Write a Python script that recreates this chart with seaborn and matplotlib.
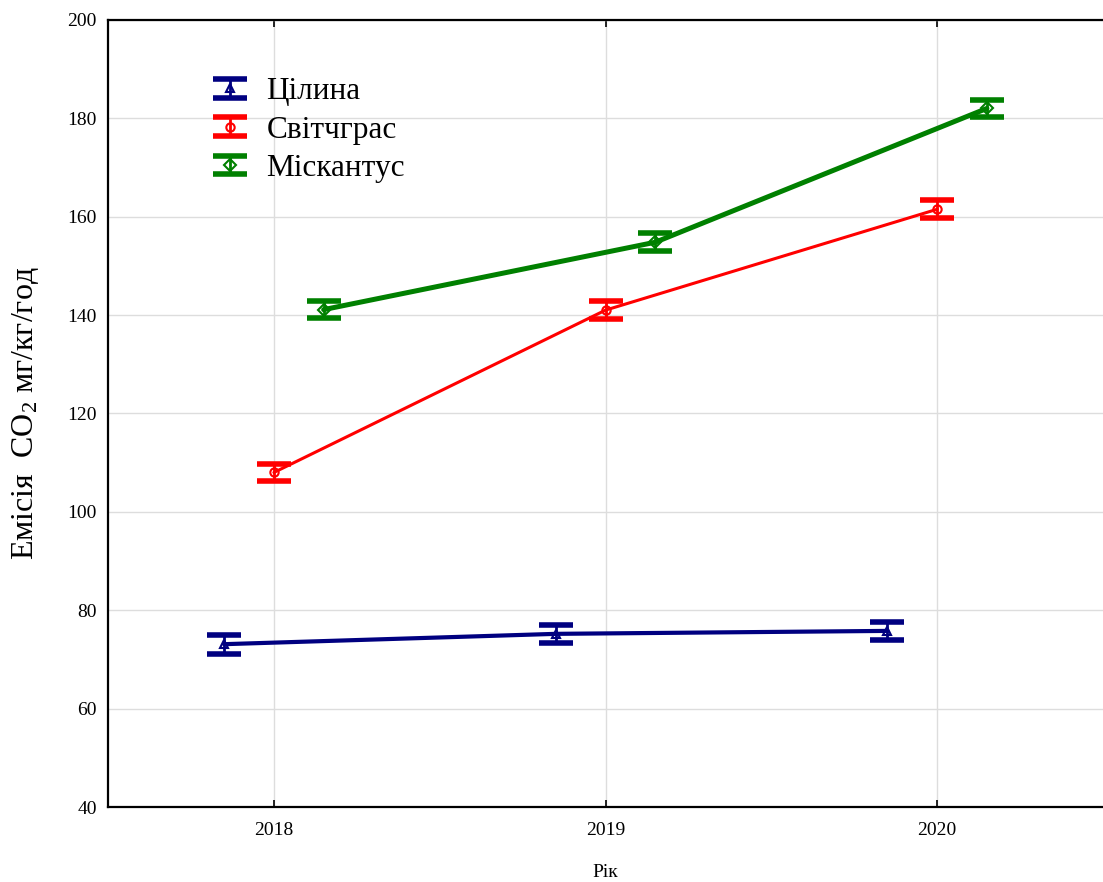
import matplotlib
matplotlib.use("Agg")
import matplotlib.pyplot as plt
from matplotlib.container import ErrorbarContainer
from matplotlib.legend_handler import HandlerErrorbar
import numpy as np
import pandas as pd
import seaborn as sns

# Data: CO2 emission by year and land-use variant
years = ["2018", "2019", "2020"]
series_names = ["Цілина", "Світчграс", "Міскантус"]
tselyna = [73.1, 75.2, 75.8]
switchgrass = [108.0, 141.0, 161.5]
miscanthus = [141.1, 154.8, 182.0]
tselyna_err = [1.9, 1.9, 1.9]
switchgrass_err = [1.8, 1.8, 1.8]
miscanthus_err = [1.8, 1.8, 1.8]

sns.set_theme(style="white")
plt.rcParams["font.family"] = ["Liberation Serif", "DejaVu Serif"]
plt.rcParams["mathtext.fontset"] = "custom"
plt.rcParams["mathtext.rm"] = "Liberation Serif"
plt.rcParams["mathtext.it"] = "Liberation Serif:italic"
plt.rcParams["text.color"] = "black"
plt.rcParams["axes.labelcolor"] = "black"

values = [tselyna, switchgrass, miscanthus]
errors = [tselyna_err, switchgrass_err, miscanthus_err]
colors = ["#000080", "#ff0000", "#008000"]
markers = ["^", "o", "D"]
offsets = [-0.15, 0.0, 0.15]
line_widths = [3.0, 2.2, 3.6]

rows = []
for name, vals, errs, off in zip(series_names, values, errors, offsets):
    for i, (y, e) in enumerate(zip(vals, errs)):
        rows.append({"series": name, "pos": i + off, "value": y, "err": e})
df = pd.DataFrame(rows)

fig = plt.figure(figsize=(11.03, 8.82), dpi=100)
ax = fig.add_axes([0.098, 0.085, 0.902, 0.8925])

for name, color, marker, lw in zip(series_names, colors, markers, line_widths):
    sub = df[df["series"] == name]
    sns.lineplot(data=sub, x="pos", y="value", color=color, linewidth=lw,
                 ax=ax, legend=False, zorder=3)
    cont = ax.errorbar(sub["pos"], sub["value"], yerr=sub["err"], fmt=marker,
                       color=color, mfc="none", mec=color, ms=6,
                       elinewidth=2.0, capsize=12, capthick=4.0,
                       label=name, zorder=4)
    cont.lines[0].set_markeredgewidth(1.5)

ax.set_xlim(-0.5, 2.5)
ax.set_ylim(40, 200)
ax.set_xticks(range(len(years)))
ax.set_xticklabels(years)
ax.set_yticks(np.arange(40, 201, 20))
ax.tick_params(axis="both", direction="in", length=5, width=1.2,
               labelsize=14, colors="black", pad=8)
ax.tick_params(axis="x", top=True, bottom=True, pad=11)
ax.tick_params(axis="y", left=False)

ax.grid(True, color="#dddddd", linewidth=1.0)
ax.set_axisbelow(True)
for side in ["left", "bottom", "top"]:
    ax.spines[side].set_visible(True)
    ax.spines[side].set_color("black")
    ax.spines[side].set_linewidth(1.6)
ax.spines["right"].set_visible(False)

ax.set_xlabel("Рік", fontsize=14, labelpad=18)
ax.set_ylabel("Емісія  CO$_2$ мг/кг/год", fontsize=23, labelpad=19)

leg = ax.legend(loc="upper left", bbox_to_anchor=(0.09, 0.943), frameon=False,
                fontsize=22.5, handlelength=1.3, handletextpad=0.5,
                labelspacing=0.3, borderaxespad=0,
                handler_map={ErrorbarContainer: HandlerErrorbar(xerr_size=0.3)})

fig.savefig("out.png", dpi=100)
